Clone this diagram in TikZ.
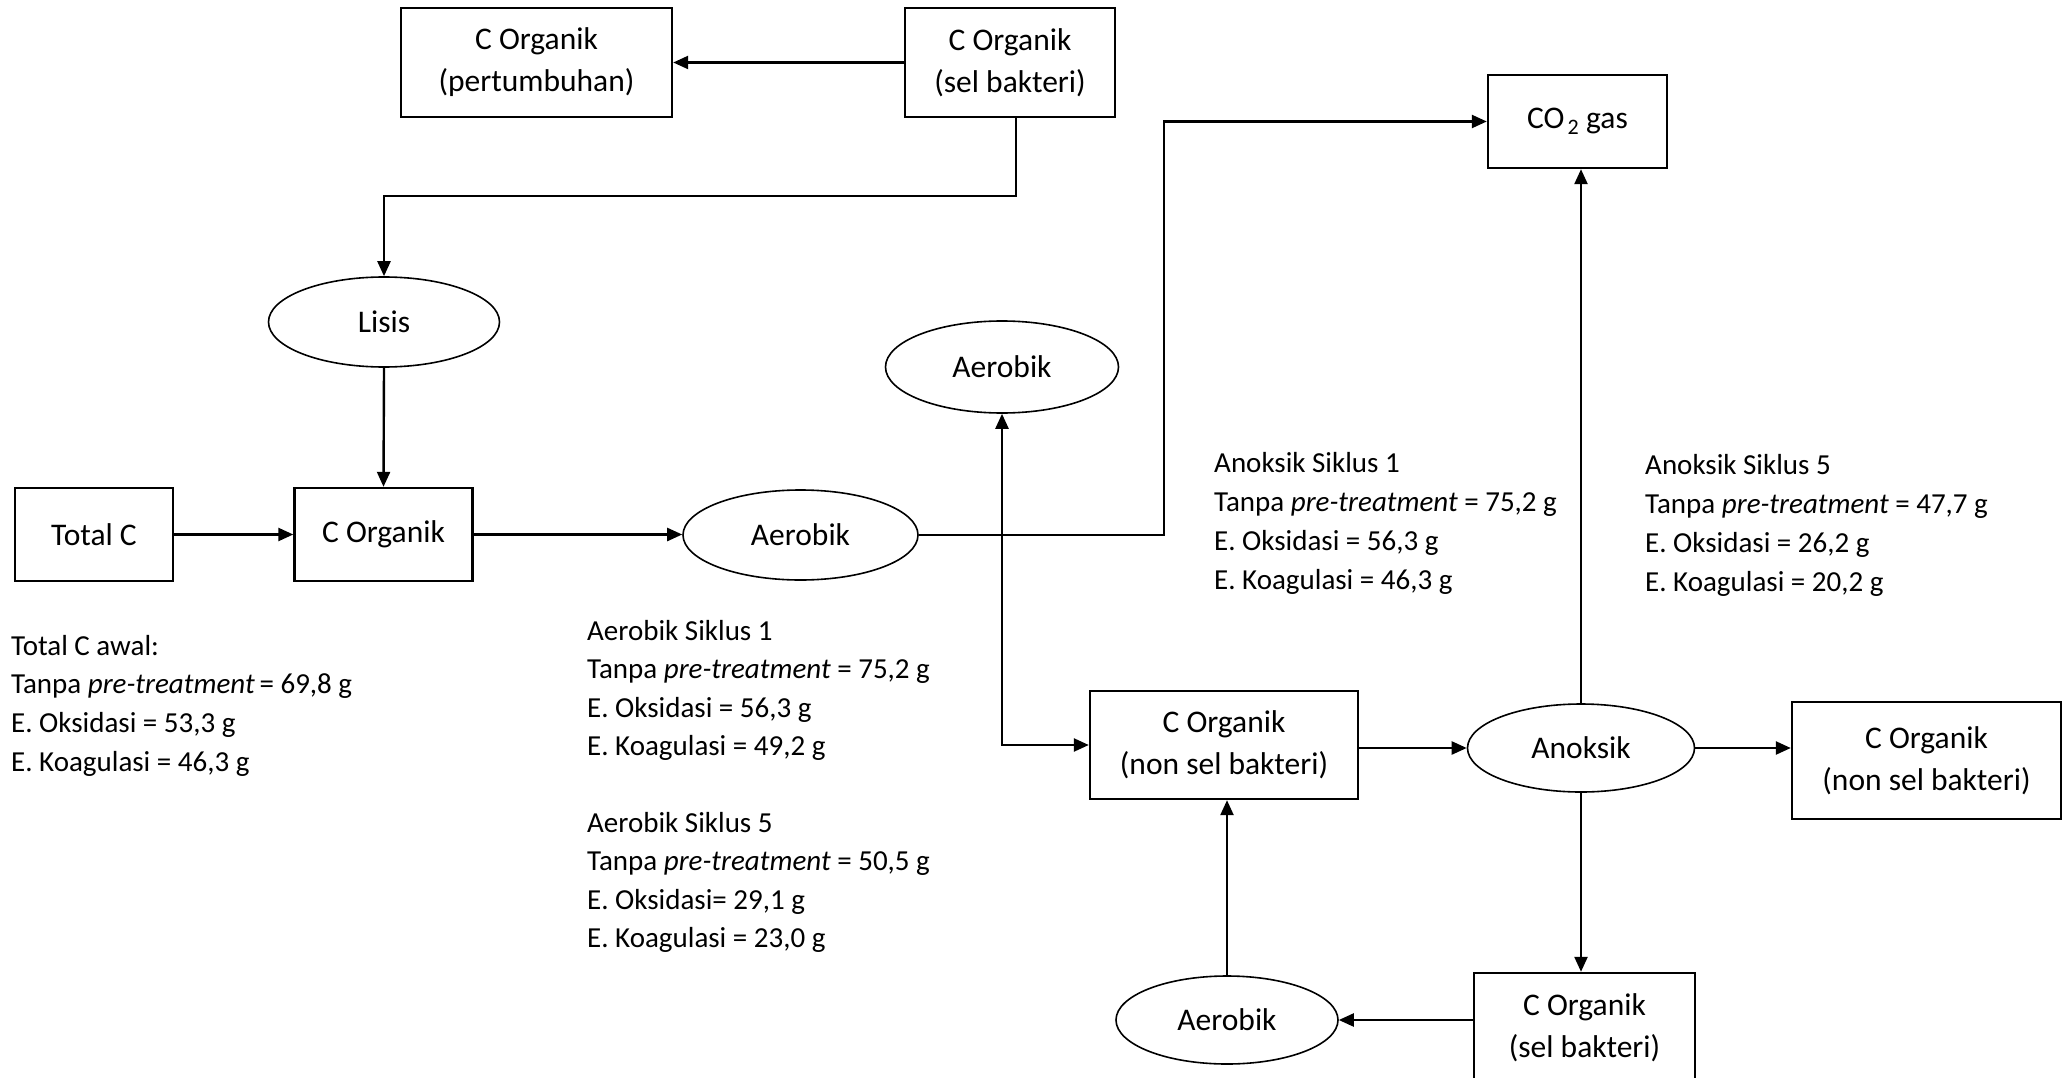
\documentclass[tikz,border=0pt]{standalone}
\usepackage{fontspec}
\setmainfont{Carlito}
\usetikzlibrary{arrows.meta,shapes.geometric}
\begin{document}
\begin{tikzpicture}[x=1pt,y=-1pt,
  box/.style={draw,line width=2.4pt,rectangle,align=center,inner sep=0pt,
    font=\fontsize{31.5}{42}\selectfont},
  oval/.style={draw,line width=1.6pt,ellipse,inner sep=0pt,
    font=\fontsize{31.5}{42}\selectfont},
  link/.style={line width=2.4pt,-{Triangle[length=15pt,width=13pt]}},
  twoway/.style={line width=2.4pt,{Triangle[length=15pt,width=13pt]}-{Triangle[length=15pt,width=13pt]}},
  note/.style={anchor=base west,inner sep=0pt,font=\fontsize{29}{38.7}\selectfont}]
\useasboundingbox (0,0) rectangle (2069,1078);
\clip (0,0) rectangle (2069,1078);

% boxes and process ovals
\node[box,minimum width=271pt,minimum height=109pt] (pert) at (536.5,62.5) {C Organik\\(pertumbuhan)};
\node[box,minimum width=210pt,minimum height=109pt] (selA) at (1010,62.5) {C Organik\\(sel bakteri)};
\node[oval,minimum width=231pt,minimum height=90pt] (lisis) at (384,322) {Lisis};
\node[box,minimum width=158pt,minimum height=93pt] (total) at (94,534.5) {Total C};
\node[box,minimum width=178pt,minimum height=93pt] (corg) at (383.5,534.5) {C Organik};
\node[oval,minimum width=235pt,minimum height=90pt] (aer1) at (800.5,535) {Aerobik};
\node[box,minimum width=179pt,minimum height=93pt] (co2) at (1577.5,121.5) {CO\kern3pt\textsubscript{2}\kern7pt gas};
\node[oval,minimum width=233pt,minimum height=92pt] (aer2) at (1002,367) {Aerobik};
\node[box,minimum width=268pt,minimum height=108pt] (nonsel) at (1224,745) {C Organik\\(non sel bakteri)};
\node[oval,minimum width=227pt,minimum height=88pt] (anok) at (1581,748) {Anoksik};
\node[box,minimum width=269pt,minimum height=117pt] (nonsel2) at (1926.5,760.5) {C Organik\\(non sel bakteri)};
\node[box,minimum width=221pt,minimum height=110pt] (sel2) at (1584.5,1028) {C Organik\\(sel bakteri)};
\node[oval,minimum width=222pt,minimum height=88pt] (aer3) at (1227,1020) {Aerobik};

\coordinate (bendA) at (1164,0);

% connectors
\draw[link] (selA.west) -- (pert.east);
\draw[link] ([xshift=6pt]selA.south) -- ++(0,78) -| (lisis.north);
\draw[link] (lisis.south) -- (corg.north);
\draw[link] (total.east) -- (corg.west);
\draw[link] (corg.east) -- (corg.east -| aer1.west);
\draw[link] (aer1.east) -- (aer1.east -| bendA) |- (co2.west);
\draw[twoway] (aer2.south) |- (nonsel.west);
\draw[link] (nonsel.east |- anok.west) -- (anok.west);
\draw[link] (anok.east) -- (anok.east -| nonsel2.west);
\draw[link] (anok.north) -- (anok.north |- co2.south);
\draw[link] (anok.south) -- (anok.south |- sel2.north);
\draw[link] (sel2.west |- aer3.east) -- (aer3.east);
\draw[link] (aer3.north) -- (aer3.north |- nonsel.south);

% carbon balance notes
\node[note] (t1) at (11,655) {Total C awal:};
\node[note] (t2) at (11,693.5) {Tanpa \textit{pre-treatment}\,= 69,8 g};
\node[note] (t3) at (11,732) {E. Oksidasi = 53,3 g};
\node[note] (t4) at (11,771) {E. Koagulasi = 46,3 g};

\node[note] (a1) at (587,640) {Aerobik Siklus 1};
\node[note] (a2) at (587,678.5) {Tanpa \textit{pre-treatment} = 75,2 g};
\node[note] (a3) at (587,717) {E. Oksidasi = 56,3 g};
\node[note] (a4) at (587,755.5) {E. Koagulasi = 49,2 g};

\node[note] (b1) at (587,832) {Aerobik Siklus 5};
\node[note] (b2) at (587,870.5) {Tanpa \textit{pre-treatment} = 50,5 g};
\node[note] (b3) at (587,909) {E. Oksidasi= 29,1 g};
\node[note] (b4) at (587,947.5) {E. Koagulasi = 23,0 g};

\node[note] (c1) at (1214,472) {Anoksik Siklus 1};
\node[note] (c2) at (1214,511) {Tanpa \textit{pre-treatment} = 75,2 g};
\node[note] (c3) at (1214,550) {E. Oksidasi = 56,3 g};
\node[note] (c4) at (1214,589) {E. Koagulasi = 46,3 g};

\node[note] (d1) at (1645,474) {Anoksik Siklus 5};
\node[note] (d2) at (1645,513) {Tanpa \textit{pre-treatment} = 47,7 g};
\node[note] (d3) at (1645,552) {E. Oksidasi = 26,2 g};
\node[note] (d4) at (1645,591) {E. Koagulasi = 20,2 g};
\end{tikzpicture}
\end{document}
